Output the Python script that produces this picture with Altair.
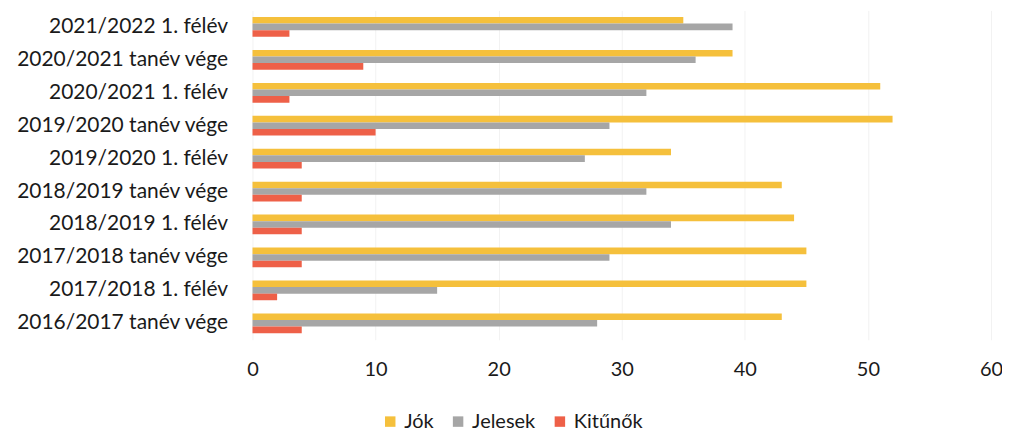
import altair as alt
import pandas as pd

categories = ["2021/2022 1. félév", "2020/2021 tanév vége", "2020/2021 1. félév",
              "2019/2020 tanév vége", "2019/2020 1. félév", "2018/2019 tanév vége",
              "2018/2019 1. félév", "2017/2018 tanév vége", "2017/2018 1. félév",
              "2016/2017 tanév vége"]
joks = [35, 39, 51, 52, 34, 43, 44, 45, 45, 43]
jelesek = [39, 36, 32, 29, 27, 32, 34, 29, 15, 28]
kitunok = [3, 9, 3, 10, 4, 4, 4, 4, 2, 4]
series = ["Jók", "Jelesek", "Kitűnők"]
colors = ["#F5C03C", "#A6A6A6", "#EE6048"]
ticks = [0, 10, 20, 30, 40, 50, 60]

rows = []
for i, c in enumerate(categories):
    for s, vals in zip(series, [joks, jelesek, kitunok]):
        rows.append({"cat": c, "series": s, "value": vals[i]})
df = pd.DataFrame(rows)

FONT = "Lato"

chart = alt.Chart(df).mark_bar().encode(
    y=alt.Y("cat:N", sort=categories,
            scale=alt.Scale(paddingInner=0.4, paddingOuter=0.2),
            axis=alt.Axis(title=None, labelFontSize=21, labelPadding=25, ticks=False,
                          domain=False, labelColor="#1a1a1a", labelFont=FONT, grid=False,
                          labelLimit=400)),
    yOffset=alt.YOffset("series:N", sort=series),
    x=alt.X("value:Q", scale=alt.Scale(domain=[0, 60]),
            axis=alt.Axis(values=ticks, title=None, labelFontSize=20, labelPadding=20,
                          ticks=False, domain=False, labelColor="#1a1a1a", labelFont=FONT,
                          gridColor="#f2f2f2", labelFlush=False)),
    color=alt.Color("series:N", sort=series,
                    scale=alt.Scale(domain=series, range=colors),
                    legend=alt.Legend(title=None, orient="none", legendX=128, legendY=402,
                                      direction="horizontal", symbolType="square",
                                      symbolSize=110, symbolStrokeWidth=0,
                                      labelFontSize=20, labelFont=FONT,
                                      labelColor="#1a1a1a", columnPadding=14,
                                      labelOffset=4)),
).properties(
    width=740, height=330,
    padding={"left": 245, "top": 2, "right": 11, "bottom": 92},
    autosize="none",
).configure_view(stroke=None)

chart.save("out.html", embed_options={"renderer": "svg", "actions": False})
